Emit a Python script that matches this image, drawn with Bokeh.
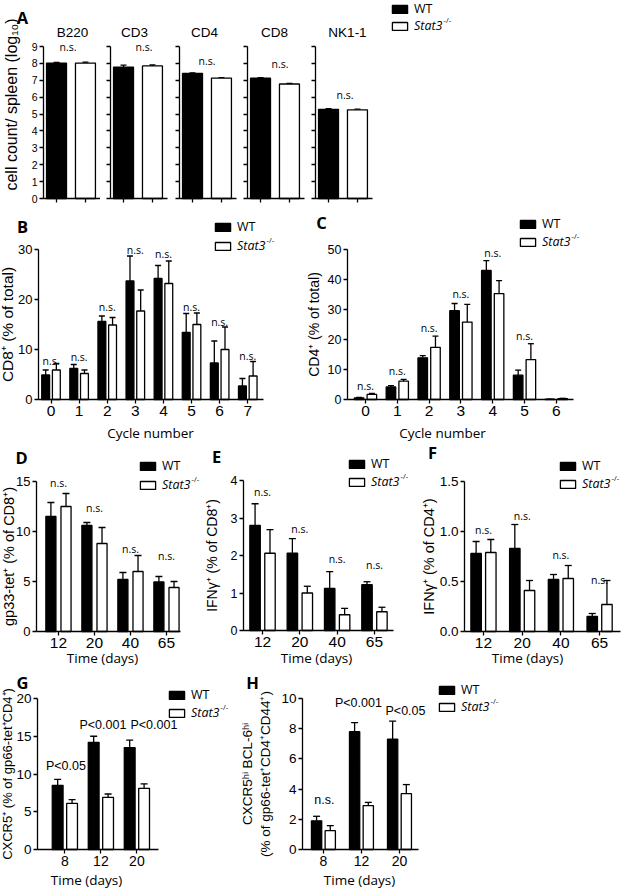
import numpy as np
from bokeh.plotting import figure
from bokeh.models import (Range1d, FixedTicker, Whisker, TeeHead, ColumnDataSource,
                          LabelSet, Label, Legend, LegendItem, NumeralTickFormatter)
from bokeh.core.properties import value
from bokeh.layouts import row, column
from bokeh.embed import file_html
from bokeh.resources import INLINE

# ---------------- data ----------------
a_cells = ["B220", "CD3", "CD4", "CD8", "NK1-1"]
a_wt = [8.02, 7.78, 7.41, 7.12, 5.28]
a_wt_err = [0.04, 0.12, 0.03, 0.04, 0.04]
a_ko = [8.02, 7.85, 7.13, 6.78, 5.25]
a_ko_err = [0.05, 0.06, 0.03, 0.03, 0.04]
a_sig = ["n.s.", "n.s.", "n.s.", "n.s.", "n.s."]
a_sig_y = [9.0, 9.0, 8.15, 7.95, 6.1]

b_cycle = ["0", "1", "2", "3", "4", "5", "6", "7"]
b_wt = [4.9, 6.2, 15.6, 23.7, 24.2, 13.4, 7.3, 2.7]
b_wt_err = [1.0, 0.8, 1.1, 5.0, 2.6, 3.8, 4.4, 1.5]
b_ko = [5.9, 5.2, 14.9, 17.7, 23.2, 15.0, 10.0, 4.7]
b_ko_err = [1.3, 0.7, 1.5, 4.2, 4.5, 2.3, 4.5, 2.9]
b_sig = ["n.s."] * 8
b_sig_y = [7.7, 8.5, 18.5, 29.9, 29.1, 18.5, 15.5, 8.7]

c_cycle = ["0", "1", "2", "3", "4", "5", "6"]
c_wt = [0.5, 4.2, 13.9, 29.6, 43.0, 8.1, 0.1]
c_wt_err = [0.2, 0.4, 0.7, 2.4, 3.3, 1.7, 0.0]
c_ko = [1.7, 6.1, 17.4, 25.8, 35.3, 13.3, 0.3]
c_ko_err = [0.3, 0.6, 3.7, 5.9, 4.3, 5.3, 0.1]
c_sig = ["n.s."] * 6
c_sig_y = [4.6, 9.4, 23.7, 35.3, 48.9, 21.1]

def_days = ["12", "20", "40", "65"]
d_wt = [11.5, 10.6, 5.2, 4.95]
d_wt_err = [1.4, 0.3, 0.7, 0.55]
d_ko = [12.5, 8.8, 6.0, 4.4]
d_ko_err = [1.3, 1.6, 1.6, 0.6]
d_sig = ["n.s."] * 4
d_sig_y = [14.9, 12.4, 8.3, 7.6]

e_wt = [2.8, 2.06, 1.12, 1.22]
e_wt_err = [0.58, 0.39, 0.45, 0.08]
e_ko = [2.06, 1.0, 0.42, 0.5]
e_ko_err = [0.63, 0.18, 0.17, 0.12]
e_sig = ["n.s."] * 4
e_sig_y = [3.7, 2.7, 1.92, 1.75]

f_wt = [0.78, 0.83, 0.52, 0.15]
f_wt_err = [0.12, 0.24, 0.05, 0.03]
f_ko = [0.79, 0.41, 0.53, 0.27]
f_ko_err = [0.13, 0.10, 0.13, 0.24]
f_sig = ["n.s."] * 4
f_sig_y = [1.02, 1.16, 0.77, 0.52]

gh_days = ["8", "12", "20"]
g_wt = [8.5, 14.2, 13.5]
g_wt_err = [0.8, 0.8, 1.0]
g_ko = [6.1, 6.9, 8.1]
g_ko_err = [0.5, 0.45, 0.6]
g_sig = ["P<0.05", "P<0.001", "P<0.001"]
g_sig_y = [11.0, 16.5, 16.5]

h_wt = [1.9, 7.8, 7.3]
h_wt_err = [0.3, 0.6, 1.2]
h_ko = [1.25, 2.9, 3.7]
h_ko_err = [0.33, 0.22, 0.6]
h_sig = ["n.s.", "P<0.001", "P<0.05"]
h_sig_y = [3.3, 9.7, 9.2]

# ---------------- layout helpers ----------------
SANS = "Liberation Sans"
HUM = "Open Sans"
LW = 1.3
LEG_FONT = 12.5
BOX_H = max(1.36 * LEG_FONT, 10)


def fpx(v):
    return f"{v:.1f}px"


class Panel:
    """A figure whose frame fills its canvas; axes sit at fixed data locations."""

    def __init__(self, canvas, axbox, xdat, ydat):
        cx0, cy0, cx1, cy1 = canvas
        ax0, ay0, ax1, ay1 = axbox
        self.CL, self.CT = cx0, cy0
        self.W, self.H = cx1 - cx0, cy1 - cy0
        xa, xb = xdat
        ya, yb = ydat
        kx = (xb - xa) / (ax1 - ax0)
        ky = (yb - ya) / (ay1 - ay0)

        def fx(pg):
            return xa + (pg - ax0) * kx

        def fy(pg):
            return ya + (ay1 - pg) * ky

        p = figure(width=self.W, height=self.H,
                   x_range=Range1d(fx(cx0), fx(cx1)),
                   y_range=Range1d(fy(cy1), fy(cy0)),
                   output_backend="svg", toolbar_location=None,
                   min_border_left=0, min_border_right=0, min_border_top=0, min_border_bottom=0)
        p.outline_line_color = None
        p.xgrid.visible = False
        p.ygrid.visible = False
        p.background_fill_color = "white"
        p.border_fill_color = "white"
        p.xaxis.fixed_location = ya
        p.xaxis.bounds = (xa, xb)
        p.yaxis.fixed_location = xa
        p.yaxis.bounds = (ya, yb)
        self.p = p

    def sx(self, x):
        return x - self.CL

    def sy(self, y):
        return self.CT + self.H - y

    def label(self, x, y, text, size, font=HUM, style="normal", align="center",
              baseline="middle", angle=0.0):
        self.p.add_layout(Label(x=self.sx(x), y=self.sy(y), x_units="screen", y_units="screen",
                                text=text, text_font=font, text_font_size=fpx(size),
                                text_font_style=style, text_align=align, angle=angle,
                                text_baseline=baseline, text_color="black"))

    def axes(self, ncat, yticks, xsize, ysize, xcats=None, ylabel=None, ylab_size=14,
             ylab_standoff=0, ylabels=True, yfmt=None):
        p = self.p
        xa, ya = p.xaxis[0], p.yaxis[0]
        xa.ticker = FixedTicker(ticks=list(range(ncat)))
        xa.major_label_overrides = {i: (xcats[i] if xcats else "") for i in range(ncat)}
        ya.ticker = FixedTicker(ticks=yticks)
        if yfmt:
            ya.formatter = NumeralTickFormatter(format=yfmt)
        if not ylabels:
            ya.major_label_overrides = {t: "" for t in yticks}
        for ax in (xa, ya):
            ax.axis_line_color = "black"
            ax.axis_line_width = LW
            ax.major_tick_line_color = "black"
            ax.major_tick_line_width = LW
            ax.major_tick_in = 0
            ax.major_tick_out = 4
            ax.minor_tick_line_color = None
            ax.major_label_text_color = "black"
            ax.major_label_text_font = SANS
            ax.major_label_standoff = 2
        xa.major_label_text_font_size = fpx(xsize)
        ya.major_label_text_font_size = fpx(ysize)
        if ylabel:
            ya.axis_label = ylabel
            ya.axis_label_text_font = SANS
            ya.axis_label_text_font_style = "normal"
            ya.axis_label_text_font_size = fpx(ylab_size)
            ya.axis_label_standoff = ylab_standoff
            ya.axis_label_text_color = "black"

    def bars(self, xw, xk, wt, wt_err, ko, ko_err, bw, cap):
        p = self.p
        wt = np.asarray(wt, float)
        ko = np.asarray(ko, float)
        s_wt = ColumnDataSource(dict(x=list(xw), top=list(wt),
                                     up=list(wt + np.asarray(wt_err))))
        s_ko = ColumnDataSource(dict(x=list(xk), top=list(ko),
                                     up=list(ko + np.asarray(ko_err))))
        r_wt = p.vbar(x="x", top="top", bottom=0, width=bw, source=s_wt,
                      fill_color="black", line_color="black", line_width=LW)
        r_ko = p.vbar(x="x", top="top", bottom=0, width=bw, source=s_ko,
                      fill_color="white", line_color="black", line_width=LW)
        for s in (s_wt, s_ko):
            p.add_layout(Whisker(source=s, base="x", lower="top", upper="up",
                                 dimension="height", line_color="black", line_width=LW,
                                 lower_head=None,
                                 upper_head=TeeHead(size=cap, line_color="black",
                                                    line_width=LW)))
        self.r_wt, self.r_ko = r_wt, r_ko

    def sig(self, xs, ys, texts, dxs, font, size):
        src = ColumnDataSource(dict(x=list(xs), y=list(ys), text=list(texts), dx=list(dxs)))
        self.p.add_layout(LabelSet(x="x", y="y", text="text", x_offset="dx", source=src,
                                   text_align="center", text_baseline="middle",
                                   text_font=value(font), text_font_size=value(fpx(size)),
                                   text_color="black"))

    def legend(self, sq_left, wt_top, ko_top):
        for r, text, style, top in ((self.r_wt, "WT", "normal", wt_top),
                                    (self.r_ko, "Stat3", "italic", ko_top)):
            leg = Legend(items=[LegendItem(label=text, renderers=[r])],
                         location=(self.sx(sq_left), self.sy(top) - BOX_H),
                         orientation="vertical", padding=0, margin=0, spacing=0,
                         border_line_color=None, background_fill_alpha=0,
                         glyph_width=19, glyph_height=10, label_height=10, label_standoff=5,
                         label_text_font=HUM, label_text_font_size=fpx(LEG_FONT),
                         label_text_font_style=style, label_text_color="black")
            self.p.add_layout(leg)
        self.label(sq_left + 53, ko_top + 2, "-/-", 7.5, align="left")


# ---------------- panel A ----------------
a_canvas_x = [(0, 100), (100, 169), (169, 237), (237, 305), (305, 622)]
a_axis_x = [(43, 100), (110, 167), (179, 236), (247, 304), (315, 372)]
a_title_x = [72, 134, 204, 274, 347]
a_ns_dx = [-3, 6, 0, 5, 2]
figsA = []
for i, cell in enumerate(a_cells):
    P = Panel((a_canvas_x[i][0], 0, a_canvas_x[i][1], 210),
              (a_axis_x[i][0], 46, a_axis_x[i][1], 198), (-0.45, 1.52), (0, 9))
    P.bars([0], [1], [a_wt[i]], [a_wt_err[i]], [a_ko[i]], [a_ko_err[i]], 0.69, 6)
    P.axes(2, list(range(10)), 10, 10.5, ylabels=(i == 0))
    P.sig([0.5], [a_sig_y[i]], [a_sig[i]], [a_ns_dx[i]], HUM, 10.5)
    P.label(a_title_x[i], 32, cell, 13.5, font=SANS)
    if i == 0:
        P.label(11, 104, "cell count/ spleen (log\u2081\u2080)", 16, font=SANS,
                angle=np.pi / 2)
        P.label(22, 17, "A", 16.5, style="bold")
    if i == 4:
        P.legend(390, 0, 17)
    figsA.append(P.p)

# ---------------- panel B ----------------
PB = Panel((0, 210, 300, 442), (38, 249, 263, 399), (-0.445, 7.56), (0, 30))
idx = np.arange(len(b_cycle))
PB.bars(idx - 0.19, idx + 0.19, b_wt, b_wt_err, b_ko, b_ko_err, 0.28, 6)
PB.axes(len(b_cycle), [0, 10, 20, 30], 15.5, 13, xcats=b_cycle,
        ylabel="CD8\u207a (% of total)", ylab_size=15.5, ylab_standoff=-1)
PB.sig(idx, b_sig_y, b_sig, [0] * 8, HUM, 10.5)
PB.label(22, 226, "B", 16.5, style="bold")
PB.label(150, 432, "Cycle number", 13.5)
PB.legend(213, 218, 237)

# ---------------- panel C ----------------
PC = Panel((300, 210, 622, 442), (347, 249, 573, 399), (-0.566, 6.54), (0, 50))
idx = np.arange(len(c_cycle))
PC.bars(idx - 0.2, idx + 0.2, c_wt, c_wt_err, c_ko, c_ko_err, 0.3, 6)
PC.axes(len(c_cycle), [0, 10, 20, 30, 40, 50], 15.5, 12.5, xcats=c_cycle,
        ylabel="CD4\u207a (% of total)", ylab_size=14, ylab_standoff=3)
PC.sig(range(len(c_sig)), c_sig_y, c_sig, [0] * len(c_sig), HUM, 10.5)
PC.label(321, 222, "C", 16.5, style="bold")
PC.label(442, 432, "Cycle number", 13.5)
PC.legend(518, 215, 233)

# ---------------- panel D ----------------
idx = np.arange(len(def_days))
PD = Panel((0, 442, 203, 668), (36, 481, 180, 631), (-0.61, 3.39), (0, 15))
PD.bars(idx - 0.21, idx + 0.21, d_wt, d_wt_err, d_ko, d_ko_err, 0.28, 7)
PD.axes(4, [0, 5, 10, 15], 15.5, 13, xcats=def_days,
        ylabel="gp33-tet\u207a (% of CD8\u207a)", ylab_size=14.5, ylab_standoff=-4)
PD.sig(idx, d_sig_y, d_sig, [0] * 4, HUM, 10.5)
PD.label(21, 457, "D", 16.5, style="bold")
PD.label(102, 657, "Time (days)", 13.5)
PD.legend(138, 457, 476)

# ---------------- panel E ----------------
PE = Panel((203, 442, 415, 668), (243, 480, 393, 630), (-0.51, 3.51), (0, 4))
PE.bars(idx - 0.2, idx + 0.2, e_wt, e_wt_err, e_ko, e_ko_err, 0.28, 7)
PE.axes(4, [0, 1, 2, 3, 4], 15.5, 12.5, xcats=def_days,
        ylabel="IFN\u03b3\u207a (% of CD8\u207a)", ylab_size=14, ylab_standoff=8)
PE.sig(idx, e_sig_y, e_sig, [0] * 4, HUM, 10.5)
PE.label(216, 456, "E", 16.5, style="bold")
PE.label(316, 657, "Time (days)", 13.5)
PE.legend(347, 455, 473)

# ---------------- panel F ----------------
PF = Panel((415, 442, 622, 668), (464, 481, 620, 631), (-0.49, 3.54), (0, 1.5))
PF.bars(idx - 0.19, idx + 0.19, f_wt, f_wt_err, f_ko, f_ko_err, 0.27, 7)
PF.axes(4, [0, 0.5, 1.0, 1.5], 15.5, 13.5, xcats=def_days,
        ylabel="IFN\u03b3\u207a (% of CD4\u207a)", ylab_size=14.5, ylab_standoff=0,
        yfmt="0.0")
PF.sig(idx, f_sig_y, f_sig, [0] * 4, HUM, 10.5)
PF.label(432, 452, "F", 16.5, style="bold")
PF.label(527, 657, "Time (days)", 13.5)
PF.legend(558, 457, 475)

# ---------------- panel G ----------------
idx = np.arange(len(gh_days))
PG = Panel((0, 668, 240, 889), (37, 698, 158, 849), (-0.76, 2.6), (0, 20))
PG.bars(idx - 0.2, idx + 0.2, g_wt, g_wt_err, g_ko, g_ko_err, 0.3, 7)
PG.axes(3, [0, 5, 10, 15, 20], 14, 13.5, xcats=gh_days,
        ylabel="CXCR5\u207a (% of gp66-tet\u207aCD4\u207a)", ylab_size=13, ylab_standoff=-2)
PG.sig(idx, g_sig_y, g_sig, [1, 2, 17], SANS, 12.5)
PG.label(22, 682, "G", 16.5, style="bold")
PG.label(86, 879, "Time (days)", 13.5)
PG.legend(167, 686, 704)

# ---------------- panel H ----------------
PH = Panel((240, 668, 622, 889), (302, 698, 418, 849), (-0.55, 2.5), (0, 10))
PH.bars(idx - 0.18, idx + 0.18, h_wt, h_wt_err, h_ko, h_ko_err, 0.27, 7)
PH.axes(3, [0, 2, 4, 6, 8, 10], 14, 13.5, xcats=gh_days,
        ylabel="CXCR5\u02b0\u2071 BCL-6\u02b0\u2071\n(% of gp66-tet\u207aCD4\u207aCD44\u207a)",
        ylab_size=13.5, ylab_standoff=5)
PH.sig(idx, h_sig_y, h_sig, [1, -3, 6], SANS, 12.5)
PH.label(252, 682, "H", 16.5, style="bold")
PH.label(359, 879, "Time (days)", 13.5)
PH.legend(437, 681, 698)

layout = column(row(*figsA), row(PB.p, PC.p), row(PD.p, PE.p, PF.p), row(PG.p, PH.p))

open("out.html", "w").write(file_html(layout, INLINE))
